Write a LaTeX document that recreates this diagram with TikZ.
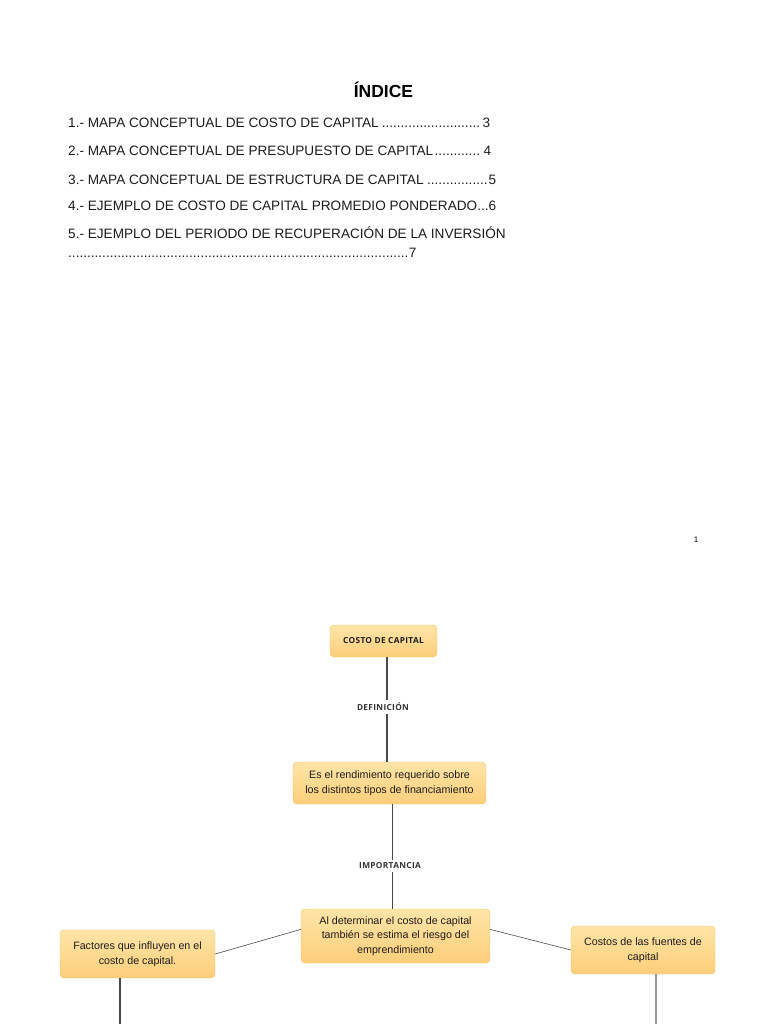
\documentclass[tikz,border=0pt]{standalone}
\usepackage{fontspec}
\setmainfont{Liberation Sans}
\newfontfamily\tagfont[LetterSpace=4]{Open Sans}
\usepackage{xcolor}
\usetikzlibrary{positioning}

\definecolor{boxtop}{HTML}{FFE5A8}
\definecolor{boxbot}{HTML}{FCCE7A}
\definecolor{boxline}{HTML}{F2C062}
\definecolor{ink}{HTML}{1C1C1C}
\definecolor{linkgray}{HTML}{4A4A4A}
\newcommand{\tocdots}{\leaders\hbox{.}\hfill}

\begin{document}
\begin{tikzpicture}[
  x=1pt, y=-1pt,
  toc/.style={anchor=base west, inner sep=0pt, text=ink, font=\fontsize{13.6}{16}\selectfont},
  concept/.style={draw=boxline, top color=boxtop, bottom color=boxbot, rounded corners=4pt,
    align=center, inner sep=2pt, text=ink, font=\fontsize{10.7}{14.5}\selectfont},
  tag/.style={inner sep=3pt, text=black!80, font=\tagfont\bfseries\fontsize{8.3}{9}\selectfont},
  link/.style={draw=linkgray, line width=1.1pt},
  thin link/.style={draw=linkgray, line width=0.6pt}
]
\useasboundingbox (0,0) rectangle (768,1024);

% indice
\node[anchor=base, inner sep=0pt, font=\bfseries\fontsize{17.5}{20}\selectfont] (titulo) at (383.5,98) {ÍNDICE};
\node[toc] (item1) at (68,128) {\makebox[422pt][l]{1.- MAPA CONCEPTUAL DE COSTO DE CAPITAL\tocdots3}};
\node[toc] (item2) at (68,156) {\makebox[423pt][l]{2.- MAPA CONCEPTUAL DE PRESUPUESTO DE CAPITAL\tocdots4}};
\node[toc] (item3) at (68,184.5) {\makebox[428pt][l]{3.- MAPA CONCEPTUAL DE ESTRUCTURA DE CAPITAL\tocdots5}};
\node[toc] (item4) at (68,211) {4.- EJEMPLO DE COSTO DE CAPITAL PROMEDIO PONDERADO...6};
\node[toc] (item5) at (68,238) {5.- EJEMPLO DEL PERIODO DE RECUPERACIÓN DE LA INVERSIÓN};
\node[toc] (item5b) at (68,257) {\makebox[348pt][l]{\tocdots7}};
\node[anchor=base, inner sep=0pt, font=\fontsize{8}{9}\selectfont] (pagina) at (696,542.5) {1};

% mapa conceptual
\node[concept, minimum width=107pt, minimum height=32pt] (costo) at (383.5,641)
  {\tagfont\bfseries\fontsize{8.3}{9}\selectfont COSTO DE CAPITAL};
\node[tag] (definicion) at (383,707) {DEFINICIÓN};
\node[concept, minimum width=193pt, minimum height=42pt] (rendimiento) at (389.5,783)
  {Es el rendimiento requerido sobre\\los distintos tipos de financiamiento};
\node[tag] (importancia) at (390,866) {IMPORTANCIA};
\node[concept, minimum width=189pt, minimum height=54pt] (riesgo) at (395.5,936)
  {Al determinar el costo de capital\\también se estima el riesgo del\\emprendimiento};
\node[concept, minimum width=155pt, minimum height=48pt] (factores) at (137.5,954)
  {Factores que influyen en el\\costo de capital.};
\node[concept, minimum width=144pt, minimum height=48pt] (fuentes) at (643,950)
  {Costos de las fuentes de\\capital};
\coordinate (eje1) at (387,0);
\coordinate (eje2) at (392.5,0);
\coordinate (factoresfin) at (120,1026);
\coordinate (fuentesfin) at (656,1026);

\draw[link] (costo.south -| eje1) -- (definicion.north -| eje1);
\draw[link] (definicion.south -| eje1) -- (rendimiento.north -| eje1);
\draw[link] (rendimiento.south -| eje2) -- (importancia.north -| eje2);
\draw[link] (importancia.south -| eje2) -- (riesgo.north -| eje2);
\draw[thin link] (riesgo.176) -- (factores.east);
\draw[thin link] (riesgo.4) -- (fuentes.west);
\draw[link] (factores.south -| factoresfin) -- (factoresfin);
\draw[link, draw=black!40] (fuentes.south -| fuentesfin) -- (fuentesfin);
\end{tikzpicture}
\end{document}
